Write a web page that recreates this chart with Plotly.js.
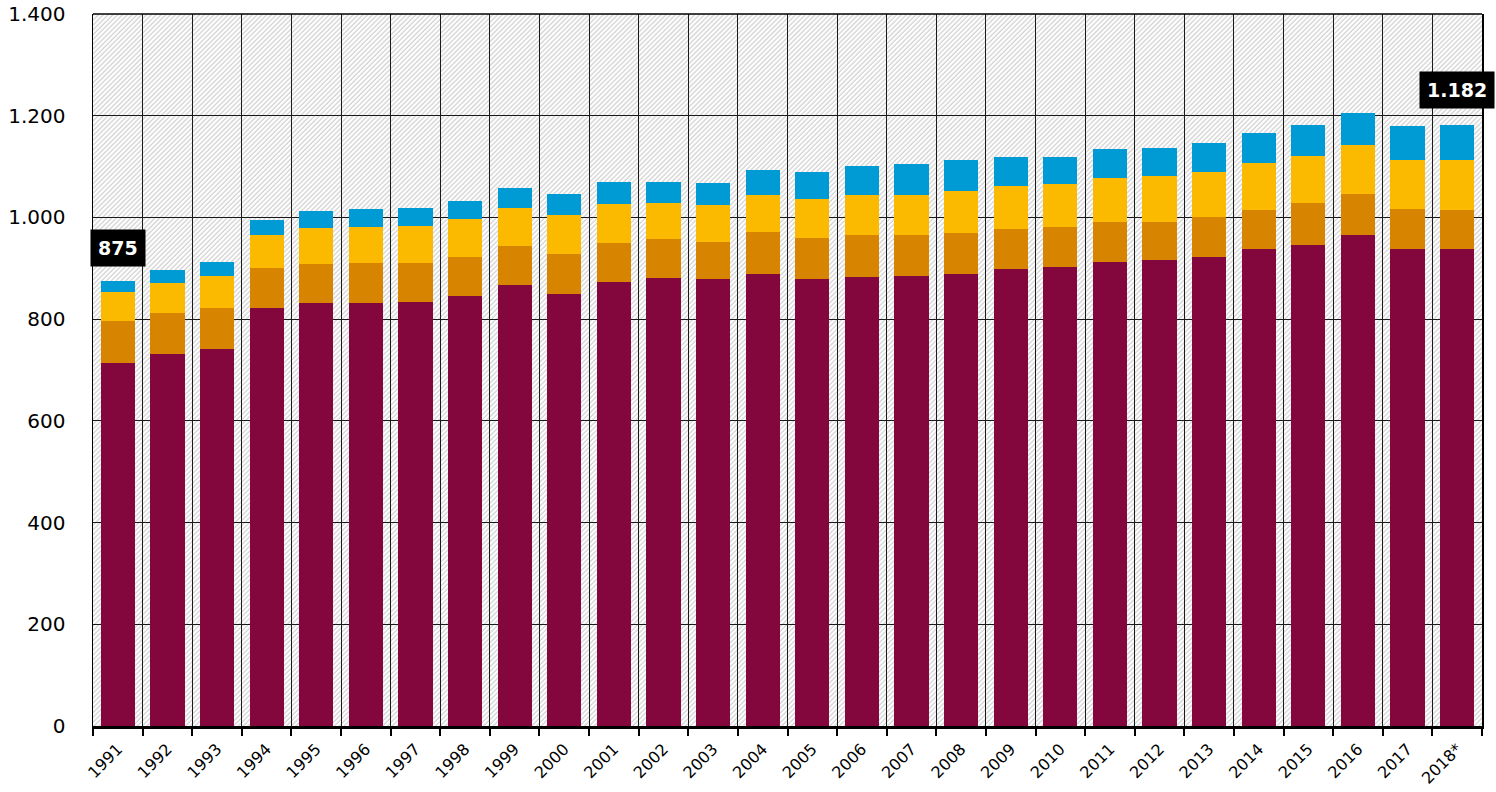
<!DOCTYPE html>
<html>
<head>
<meta charset="utf-8">
<script src="https://cdn.plot.ly/plotly-3.0.1.min.js"></script>
<style>
  html, body { margin: 0; padding: 0; background: #ffffff; }
  #chart { width: 1496px; height: 792px; }
</style>
</head>
<body>
<div id="chart"></div>
<script>
const years = ['1991','1992','1993','1994','1995','1996','1997','1998','1999','2000',
  '2001','2002','2003','2004','2005','2006','2007','2008','2009','2010',
  '2011','2012','2013','2014','2015','2016','2017','2018*'];

const seriesMaroon = [714,732,742,822,832,832,834,846,868,850,874,881,878,888,878,883,885,889,899,903,913,916,923,937,946,966,937,937];
const seriesOrange = [83,81,80,78,77,78,77,77,76,79,76,77,74,84,82,83,81,81,79,79,79,75,77,78,83,81,80,78];
const seriesYellow = [56,58,63,65,71,72,73,73,74,75,77,71,72,73,76,79,79,82,83,84,86,90,90,92,92,95,96,98];
const seriesBlue   = [22,26,28,30,33,34,35,36,40,43,42,41,44,49,53,56,60,61,58,53,56,56,56,60,61,64,67,69];

const labelFirst = '875';
const labelLast = '1.182';
const yTicks = [0,200,400,600,800,1000,1200,1400];

const colors = ['#83063c', '#d78400', '#fbba00', '#009bd4'];
const allSeries = [seriesMaroon, seriesOrange, seriesYellow, seriesBlue];

const traces = allSeries.map((vals, i) => ({
  type: 'bar',
  x: years,
  y: vals,
  width: 0.69,
  marker: { color: colors[i], line: { width: 0 } },
  hoverinfo: 'x+y',
  showlegend: false
}));

const totals = years.map((_, i) => allSeries.reduce((s, a) => s + a[i], 0));

const hatch = "<svg xmlns='http://www.w3.org/2000/svg' width='1389' height='712'>" +
  "<defs><pattern id='p' width='3.4' height='3.4' patternUnits='userSpaceOnUse' patternTransform='rotate(45)'>" +
  "<line x1='1' y1='0' x2='1' y2='3.4' stroke='#cacaca' stroke-width='1.1'/></pattern></defs>" +
  "<rect width='100%' height='100%' fill='#ffffff'/><rect width='100%' height='100%' fill='url(#p)'/></svg>";

const annFont = { size: 19, color: '#ffffff', family: 'DejaVu Sans, sans-serif' };

const layout = {
  width: 1496,
  height: 792,
  margin: { l: 93, r: 14, t: 14, b: 66 },
  paper_bgcolor: '#ffffff',
  plot_bgcolor: '#ffffff',
  separators: ',.',
  barmode: 'stack',
  font: { family: 'DejaVu Sans, sans-serif', color: '#000000' },
  xaxis: {
    type: 'category',
    tickson: 'boundaries',
    ticks: 'outside',
    ticklen: 7,
    tickwidth: 2,
    tickcolor: '#000000',
    tickangle: -45,
    ticklabelstandoff: 5,
    tickfont: { size: 16, color: '#000000' },
    showgrid: true,
    gridcolor: '#1a1a1a',
    gridwidth: 1,
    showline: true,
    linecolor: '#000000',
    linewidth: 2.5,
    range: [-0.5, years.length - 0.5]
  },
  yaxis: {
    range: [0, 1400],
    tickvals: yTicks,
    tickformat: ',d',
    ticks: '',
    ticklabelstandoff: 22,
    tickfont: { size: 20, color: '#000000' },
    showgrid: true,
    gridcolor: '#1a1a1a',
    gridwidth: 1,
    zeroline: false,
    showline: true,
    linecolor: '#000000',
    linewidth: 1.5,
    mirror: true
  },
  images: [{
    source: 'data:image/svg+xml;charset=utf-8,' + encodeURIComponent(hatch),
    xref: 'paper', yref: 'paper',
    x: 0, y: 1, sizex: 1, sizey: 1,
    xanchor: 'left', yanchor: 'top',
    sizing: 'stretch',
    layer: 'below'
  }],
  shapes: [{
    type: 'line', xref: 'paper', yref: 'paper',
    x0: 0, x1: 1, y0: 1, y1: 1,
    line: { color: '#000000', width: 1.5 }
  }],
  annotations: [
    {
      x: 0, y: totals[0] + 65, xref: 'x', yref: 'y',
      text: '<b>' + labelFirst + '</b>', showarrow: false,
      font: annFont,
      bgcolor: '#000000', borderpad: 7, xanchor: 'center', yanchor: 'middle'
    },
    {
      x: years.length - 1, y: totals[totals.length - 1] + 68, xref: 'x', yref: 'y',
      text: '<b>' + labelLast + '</b>', showarrow: false,
      font: annFont,
      bgcolor: '#000000', borderpad: 7, xanchor: 'center', yanchor: 'middle'
    }
  ]
};

Plotly.newPlot('chart', traces, layout, { displayModeBar: false, staticPlot: true });
</script>
</body>
</html>
